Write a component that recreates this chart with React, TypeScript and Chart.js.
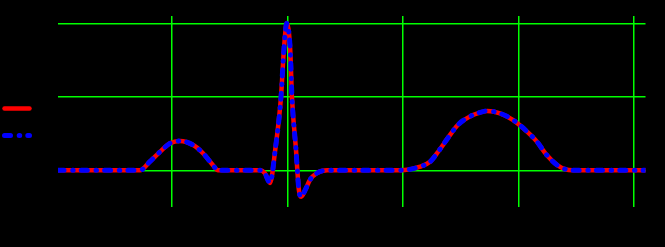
import React, { useEffect, useRef } from "react";
import { Chart, registerables } from "chart.js";

Chart.register(...registerables);

// time in ms
const timeMs = [
  3, 145, 162, 180, 197, 214, 237, 254, 271, 280, 300,
  353, 361, 370, 379, 389, 394, 399, 405, 408, 415, 420, 424, 431, 439, 451, 469,
  595, 630, 647, 661, 678, 695, 716, 733, 746, 768, 791, 815, 832, 849, 867, 881, 894, 1020,
];
const originalSignal = [
  0, 0, 0.059, 0.127, 0.184, 0.2, 0.172, 0.116, 0.036, 0, 0,
  0, -0.02, -0.086, 0.138, 0.498, 0.818, 1.0, 0.818, 0.498, 0.138, -0.134, -0.18, -0.134, -0.066, -0.02, 0,
  0, 0.025, 0.058, 0.126, 0.22, 0.308, 0.366, 0.393, 0.404, 0.388, 0.342, 0.263, 0.195, 0.104, 0.036, 0.007, 0, 0,
];
const reconstructedSignal = [
  0, 0, 0.059, 0.127, 0.184, 0.2, 0.172, 0.116, 0.036, 0, 0,
  0, -0.02, -0.086, 0.138, 0.498, 0.818, 1.0, 0.818, 0.498, 0.138, -0.134, -0.18, -0.134, -0.066, -0.02, 0,
  0, 0.025, 0.058, 0.126, 0.22, 0.308, 0.366, 0.393, 0.404, 0.388, 0.342, 0.263, 0.195, 0.104, 0.036, 0.007, 0, 0,
];
const seriesLabels = ["original", "reconstructed"];
const xTicks = [200, 400, 600, 800, 1000];
const yTicks = [0, 0.5, 1.0];
const xMin = 3;
const xMax = 1020;
const yMin = -0.25;
const yMax = 1.05;

const GRID = "#00ff00";

const sideLegend = {
  id: "sideLegend",
  afterDraw(chart: any) {
    const ctx = chart.ctx;
    chart.data.datasets.forEach((ds: any, i: number) => {
      const y = 108.5 + i * 27;
      ctx.save();
      ctx.strokeStyle = ds.borderColor;
      ctx.lineWidth = ds.borderWidth;
      ctx.setLineDash(ds.borderDash || []);
      ctx.lineCap = "round";
      ctx.beginPath();
      ctx.moveTo(4.5, y);
      ctx.lineTo(29.5, y);
      ctx.stroke();
      ctx.setLineDash([]);
      ctx.fillStyle = "#000000";
      ctx.font = "10px 'DejaVu Sans'";
      ctx.textBaseline = "middle";
      ctx.fillText(ds.label, 36, y);
      ctx.restore();
    });
  },
};

export default function App() {
  const ref = useRef<HTMLCanvasElement | null>(null);
  useEffect(() => {
    if (!ref.current) return;
    const mk = (vals: number[]) => timeMs.map((t, i) => ({ x: t, y: vals[i] }));
    const chart = new Chart(ref.current, {
      type: "line",
      data: {
        datasets: [
          {
            label: seriesLabels[0],
            data: mk(originalSignal),
            borderColor: "#ff0000",
            borderWidth: 4.5,
            borderCapStyle: "round",
            borderJoinStyle: "round",
            pointRadius: 0,
            cubicInterpolationMode: "monotone",
            order: 2,
          },
          {
            label: seriesLabels[1],
            data: mk(reconstructedSignal),
            borderColor: "#0000ff",
            borderWidth: 5,
            borderDash: [6, 8.7, 0.5, 8.1],
            borderCapStyle: "round",
            borderJoinStyle: "round",
            pointRadius: 0,
            cubicInterpolationMode: "monotone",
            order: 1,
          },
        ],
      },
      options: {
        animation: false,
        responsive: false,
        layout: { padding: { left: 58, right: 19.5, top: 16, bottom: 40 } },
        plugins: { legend: { display: false }, tooltip: { enabled: false } },
        scales: {
          x: {
            type: "linear",
            min: xMin,
            max: xMax,
            ticks: { display: false },
            border: { display: false },
            grid: { color: GRID, lineWidth: 1.5, drawTicks: false },
            afterBuildTicks: (s: any) => {
              s.ticks = xTicks.map((v) => ({ value: v }));
            },
            afterFit: (s: any) => {
              s.height = 0;
            },
          },
          y: {
            type: "linear",
            min: yMin,
            max: yMax,
            ticks: { display: false },
            border: { display: false },
            grid: { color: GRID, lineWidth: 1.5, drawTicks: false },
            afterBuildTicks: (s: any) => {
              s.ticks = yTicks.map((v) => ({ value: v }));
            },
            afterFit: (s: any) => {
              s.width = 0;
            },
          },
        },
      } as any,
      plugins: [sideLegend],
    });
    return () => chart.destroy();
  }, []);
  return (
    <div style={{ position: "fixed", left: 0, top: 0, width: 665, height: 247, background: "#000" }}>
      <canvas ref={ref} width={665} height={247} style={{ display: "block" }} />
    </div>
  );
}
